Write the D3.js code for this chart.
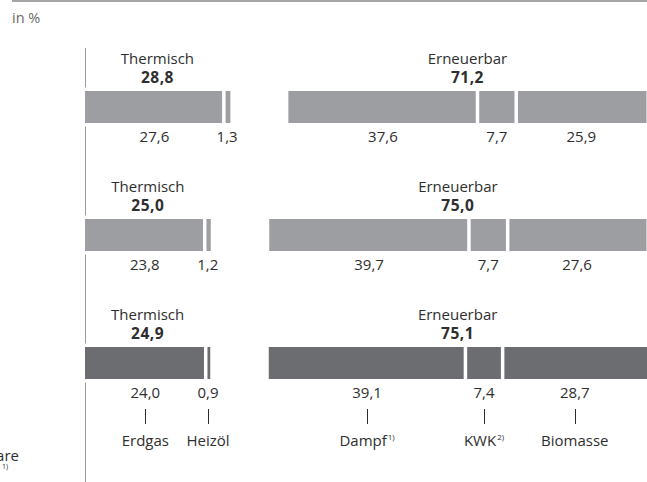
<!DOCTYPE html>
<html>
<head>
<meta charset="utf-8">
<script src="https://cdn.jsdelivr.net/npm/d3@7"></script>
<style>
  body { margin: 0; background: #fff; }
  svg { display: block; font-family: "Open Sans", "Noto Sans", sans-serif; }
</style>
</head>
<body>
<svg width="647" height="482"></svg>
<script>
// rows from top to bottom (last row is the highlighted one)
var rows = ["r1", "r2", "r3"];
var groups = ["Thermisch", "Erneuerbar"];
var groupTotals = [[28.8, 71.2], [25.0, 75.0], [24.9, 75.1]];
// segment values per row: Erdgas, Heizöl | Dampf, KWK, Biomasse
var thermValues = [[27.6, 1.3], [23.8, 1.2], [24.0, 0.9]];
var renewValues = [[37.6, 7.7, 25.9], [39.7, 7.7, 27.6], [39.1, 7.4, 28.7]];
var thermNames = ["Erdgas", "Heizöl"];
var renewNames = ["Dampf", "KWK", "Biomasse"];
var renewNotes = ["1)", "2)", ""];

var fmt = function (v) { return d3.format(".1f")(v).replace(".", ","); };

var svg = d3.select("svg");
var left = 85, groupGap = 58.5, segGap = 3.5, barH = 32;
var textCol = "#2e2e2e", lineCol = "#9a9a9a";
var barCols = ["#9d9ea1", "#9d9ea1", "#6c6d70"];
var fs = 15;

var x = d3.scaleLinear().domain([0, 100]).range([0, 503]);
var y = d3.scalePoint().domain(rows).range([91, 347]);

// top rule and unit
svg.append("rect").attr("x", 12).attr("y", 0).attr("width", 635).attr("height", 2).attr("fill", "#a5a5a5");
svg.append("text").attr("x", 12).attr("y", 23).attr("font-size", 14.5).attr("fill", "#6a6a6a").text("in %");

// vertical baseline
svg.append("line").attr("x1", left + 0.5).attr("x2", left + 0.5).attr("y1", 48).attr("y2", 482)
  .attr("stroke", lineCol).attr("stroke-width", 1);

// cut-off legend text at the left edge
var lg = svg.append("text").attr("x", 19).attr("y", 461).attr("text-anchor", "end")
  .attr("font-size", fs).attr("fill", textCol);
lg.append("tspan").text("Erneuerbare");
lg.append("tspan").attr("x", 8).attr("dy", 8).attr("font-size", 7).text("1)");

rows.forEach(function (r, i) {
  var top = y(r);
  var g = svg.append("g");
  var col = barCols[i];

  // white band to break the vertical line around the bar
  g.append("rect").attr("x", left - 3).attr("y", top - 3.5).attr("width", 6).attr("height", barH + 7).attr("fill", "#fff");

  var thermStart = left;
  var renewStart = left + x(groupTotals[i][0]) + groupGap;
  var sets = [
    { start: thermStart, vals: thermValues[i], names: thermNames, notes: ["", ""] },
    { start: renewStart, vals: renewValues[i], names: renewNames, notes: renewNotes }
  ];

  sets.forEach(function (s, gi) {
    var total = groupTotals[i][gi];
    var cx = s.start + x(total) / 2;
    g.append("text").attr("x", cx).attr("y", top - 27).attr("text-anchor", "middle")
      .attr("font-size", fs).attr("fill", textCol).text(groups[gi]);
    g.append("text").attr("x", cx).attr("y", top - 8).attr("text-anchor", "middle")
      .attr("font-size", fs + 0.5).attr("font-weight", "bold").attr("letter-spacing", 0.5)
      .attr("fill", textCol).text(fmt(total));

    var cum = 0;
    s.vals.forEach(function (v, j) {
      var x0 = s.start + x(cum), x1 = s.start + x(cum + v);
      var a = j > 0 ? x0 + segGap / 2 : x0;
      var b = j < s.vals.length - 1 ? x1 - segGap / 2 : x1;
      g.append("rect").attr("x", a).attr("y", top).attr("width", b - a).attr("height", barH).attr("fill", col);
      var mid = (x0 + x1) / 2;
      g.append("text").attr("x", mid).attr("y", top + barH + 19).attr("text-anchor", "middle")
        .attr("font-size", fs).attr("fill", textCol).text(fmt(v));
      if (i === rows.length - 1) {
        g.append("line").attr("x1", Math.round(mid) + 0.5).attr("x2", Math.round(mid) + 0.5)
          .attr("y1", top + barH + 30).attr("y2", top + barH + 45)
          .attr("stroke", textCol).attr("stroke-width", 1);
        var t = g.append("text").attr("x", mid).attr("y", top + barH + 67).attr("text-anchor", "middle")
          .attr("font-size", fs).attr("fill", textCol);
        t.append("tspan").text(s.names[j]);
        if (s.notes[j]) t.append("tspan").attr("font-size", 8).attr("dy", -6).attr("dx", 1).text(s.notes[j]);
      }
      cum += v;
    });
  });
});
</script>
</body>
</html>
